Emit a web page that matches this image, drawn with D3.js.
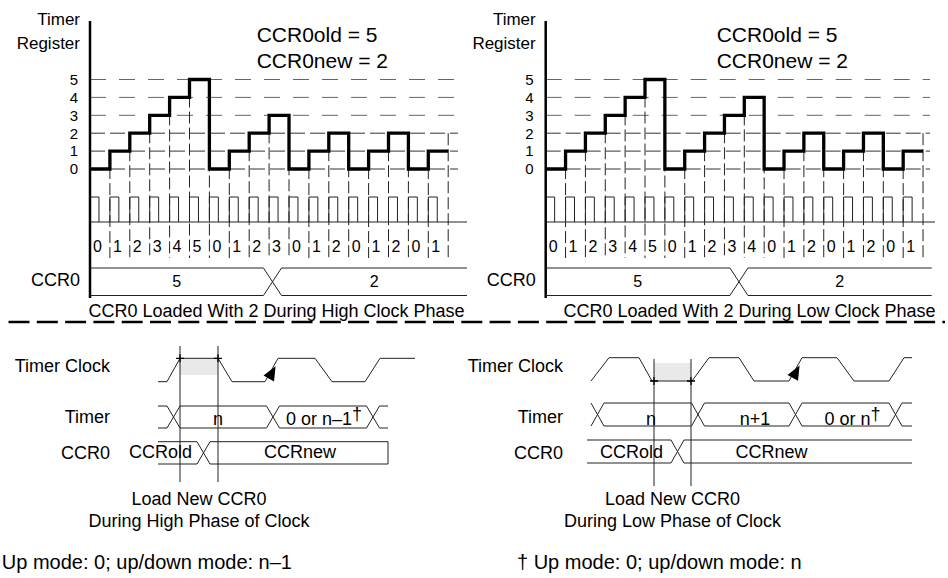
<!DOCTYPE html>
<html>
<head>
<meta charset="utf-8">
<script src="https://cdn.jsdelivr.net/npm/d3@7"></script>
<style>
  body { margin: 0; background: #fff; }
  text { font-family: "Liberation Sans", Arial, Helvetica, sans-serif; fill: #000; }
</style>
</head>
<body>
<div id="chart"></div>
<script>
// ******************************** DATA ***************************************
// Timer register value for every timer clock (upper charts)
var levels = [0, 1, 2, 3, 4, 5];
var countsHigh = [0, 1, 2, 3, 4, 5, 0, 1, 2, 3, 0, 1, 2, 0, 1, 2, 0, 1];
var countsLow  = [0, 1, 2, 3, 4, 5, 0, 1, 2, 3, 4, 0, 1, 2, 0, 1, 2, 0, 1];
var ccr0Values = [5, 2];                 // old, new
var loadSteps = [9.17, 9.73];            // clock count where CCR0 gets the new value
var panelTitles = ["CCR0 Loaded With 2 During High Clock Phase",
                   "CCR0 Loaded With 2 During Low Clock Phase"];

// Detail timing (lower charts), time measured in timer clock periods
var clockHigh = [[-0.09, 0], [0, 0], [0.13, 1], [0.51, 1], [0.65, 0], [0.98, 0], [1.11, 1],
                 [1.48, 1], [1.65, 0], [1.98, 0], [2.13, 1], [2.48, 1]];
var clockLow = [[0, 0], [0.18, 1], [0.48, 1], [0.61, 0], [1.01, 0], [1.18, 1], [1.48, 1],
                [1.63, 0], [1.98, 0], [2.11, 1], [2.46, 1], [2.63, 0], [2.98, 0], [3.13, 1], [3.21, 1]];
var timerEdgesHigh = [0.065, 1.06, 2.06];
var timerEdgesLow = [0.065, 1.07, 2.045, 3.045];
var timerLabelsHigh = [["n", 0.51], ["0 or n\u20131", 1.57, true]];
var timerLabelsLow = [["n", 0.6], ["n+1", 1.64], ["0 or n", 2.615, true]];
var ccrEdgeHigh = 0.365, ccrEdgeLow = 0.865;
var ccrLabelsHigh = [["CCRold", -0.065], ["CCRnew", 1.33]];
var ccrLabelsLow = [["CCRold", 0.405], ["CCRnew", 1.805]];
var loadWindowHigh = [0.13, 0.51], loadWindowLow = [0.63, 1.0];
var arrowEdgeHigh = [0.98, 1.11], arrowEdgeLow = [1.98, 2.11];
var phaseNames = ["High", "Low"];
var footnotes = ["\u2020 Up mode: 0; up/down mode: n\u20131", "\u2020 Up mode: 0; up/down mode: n"];

// ******************************** CANVAS *************************************
var svg = d3.select("#chart").append("svg")
    .attr("width", 948)
    .attr("height", 578);

function addText(g, x, y, str, size, anchor) {
  return g.append("text")
    .attr("x", x).attr("y", y)
    .attr("font-size", size)
    .attr("text-anchor", anchor || "start")
    .text(str);
}

// path for a bus signal: two rails with X shaped crossings
function busPath(start, edges, end, hw, yT, yB, closed) {
  var p = d3.path(), left = start;
  edges.forEach(function(c) {
    p.moveTo(left, yT); p.lineTo(c - hw, yT); p.lineTo(c + hw, yB);
    p.moveTo(left, yB); p.lineTo(c - hw, yB); p.lineTo(c + hw, yT);
    left = c + hw;
  });
  p.moveTo(left, yT); p.lineTo(end, yT);
  p.moveTo(left, yB); p.lineTo(end, yB);
  if (closed) { p.moveTo(end, yT); p.lineTo(end, yB); }
  return p.toString();
}

// ***************************** UPPER CHARTS **********************************
var yTop = d3.scaleLinear().domain([0, 5]).range([169, 79.5]);
var clkHi = 197, clkLo = 222;

var topPanels = [
  {counts: countsHigh, load: loadSteps[0], title: panelTitles[0], x0: 90, step: 19.9,
   gridEnd: 458, baseEnd: 467, busEnd: 467, labelRight: 80, noteX: 256.7, titleX: 276.5},
  {counts: countsLow, load: loadSteps[1], title: panelTitles[1], x0: 545.7, step: 19.86,
   gridEnd: 930, baseEnd: 935, busEnd: 931.7, labelRight: 535.7, noteX: 716.7, titleX: 749.5}
];

topPanels.forEach(function(p) {
  var n = p.counts.length;
  var x = d3.scaleLinear().domain([0, n]).range([p.x0, p.x0 + n * p.step]);
  var g = svg.append("g");

  // horizontal dashed grid
  g.selectAll(".hgrid").data(levels).enter().append("line")
    .attr("x1", p.x0).attr("x2", p.gridEnd)
    .attr("y1", function(d) { return yTop(d); })
    .attr("y2", function(d) { return yTop(d); })
    .attr("stroke", function(d) { return d > 2 ? "#666" : "#333"; })
    .attr("stroke-width", 1)
    .attr("stroke-dasharray", function(d) { return d > 2 ? "16,13" : "15,5"; });

  // vertical dashed lines at every clock
  g.selectAll(".vgrid").data(d3.range(1, n + 1)).enter().append("line")
    .attr("x1", function(i) { return x(i); })
    .attr("x2", function(i) { return x(i); })
    .attr("y1", function(i) {
      return i < n ? yTop(Math.max(p.counts[i - 1], p.counts[i])) : yTop(2);
    })
    .attr("y2", 258)
    .attr("stroke", "#222")
    .attr("stroke-dasharray", "12,4");

  // timer clock
  g.append("line").attr("x1", p.x0).attr("x2", p.baseEnd)
    .attr("y1", clkLo).attr("y2", clkLo).attr("stroke", "#222");
  g.append("path")
    .attr("d", p.counts.map(function(c, i) {
      return "M" + x(i) + "," + clkLo + "V" + clkHi + "H" + x(i + 0.45) + "V" + clkLo;
    }).join(""))
    .attr("fill", "none").attr("stroke", "#222");

  // count labels under the clock
  g.selectAll(".cnt").data(p.counts).enter().append("text")
    .attr("x", function(d, i) { return x(i) + 3; })
    .attr("y", 251.7)
    .attr("font-size", 16)
    .text(function(d) { return d; });

  // staircase of the timer register
  var stair = d3.line().curve(d3.curveStepAfter)
    .x(function(d, i) { return x(i); })
    .y(function(d) { return yTop(d); });
  g.append("path")
    .datum(p.counts.concat([p.counts[n - 1]]))
    .attr("d", stair)
    .attr("fill", "none").attr("stroke", "#000").attr("stroke-width", 3.3);

  // axis
  g.append("line").attr("x1", p.x0).attr("x2", p.x0).attr("y1", 21).attr("y2", 298)
    .attr("stroke", "#000").attr("stroke-width", 2.5);
  var yAxis = g.append("g")
    .attr("transform", "translate(" + p.x0 + ",0)")
    .call(d3.axisLeft(yTop).tickValues(levels).tickFormat(d3.format("d"))
      .tickSize(0).tickPadding(12));
  yAxis.select(".domain").remove();
  yAxis.attr("font-family", null).attr("font-size", null);
  yAxis.selectAll("text").attr("font-size", 15).attr("fill", "#000");

  addText(g, p.labelRight, 25, "Timer", 17, "end");
  addText(g, p.labelRight, 48.5, "Register", 17, "end");
  addText(g, p.noteX, 41.7, "CCR0old = " + ccr0Values[0], 21);
  addText(g, p.noteX, 68.3, "CCR0new = " + ccr0Values[1], 21);

  // CCR0 bus
  var hw = 9, bT = 268, bB = 295.5, cx = x(p.load);
  g.append("path")
    .attr("d", busPath(p.x0, [cx], p.busEnd, hw, bT, bB, false))
    .attr("fill", "none").attr("stroke", "#222");
  addText(g, (p.x0 + cx - hw) / 2, 287, ccr0Values[0], 16, "middle");
  addText(g, (cx + hw + p.busEnd) / 2, 287, ccr0Values[1], 16, "middle");
  addText(g, p.labelRight, 286, "CCR0", 18, "end");

  addText(g, p.titleX, 317, p.title, 18, "middle");
});

// separator
svg.append("line").attr("x1", 8.5).attr("x2", 945).attr("y1", 322).attr("y2", 322)
  .attr("stroke", "#000").attr("stroke-width", 2.5).attr("stroke-dasharray", "21,7.3");

// ***************************** LOWER CHARTS **********************************
var bottomPanels = [
  {clock: clockHigh, tEdges: timerEdgesHigh, tLabels: timerLabelsHigh, tStart: -0.09,
   cEdge: ccrEdgeHigh, cLabels: ccrLabelsHigh, cStart: -0.09, end: 2.21, closed: true,
   win: loadWindowHigh, arrow: arrowEdgeHigh, phase: phaseNames[0], note: footnotes[0],
   x0: 167, hi: 358.3, lo: 381.7, shade: [358.3, 375], markY: 358.3, mark: [346, 482],
   tRail: [406, 428], cRail: [441.7, 464], labelRight: 110, noteX: 292, noteAnchor: "end"},
  {clock: clockLow, tEdges: timerEdgesLow, tLabels: timerLabelsLow, tStart: 0,
   cEdge: ccrEdgeLow, cLabels: ccrLabelsLow, cStart: -0.04, end: 3.21, closed: false,
   win: loadWindowLow, arrow: arrowEdgeLow, phase: phaseNames[1], note: footnotes[1],
   x0: 591, hi: 357.7, lo: 381, shade: [363, 381], markY: 381, mark: [359, 486],
   tRail: [403, 426], cRail: [440, 463], labelRight: 563, noteX: 517, noteAnchor: "start"}
];

bottomPanels.forEach(function(p) {
  var x = d3.scaleLinear().domain([0, 1]).range([p.x0, p.x0 + 100]);
  var g = svg.append("g");
  var hw = 6.5;

  // shaded load window
  g.append("rect")
    .attr("x", x(p.win[0])).attr("width", x(p.win[1]) - x(p.win[0]))
    .attr("y", p.shade[0]).attr("height", p.shade[1] - p.shade[0])
    .attr("fill", "#e9e9e9");

  // clock
  var clk = d3.line()
    .x(function(d) { return x(d[0]); })
    .y(function(d) { return d[1] ? p.hi : p.lo; });
  g.append("path").datum(p.clock).attr("d", clk)
    .attr("fill", "none").attr("stroke", "#222");

  // arrow on the rising edge
  var ax0 = x(p.arrow[0]), ax1 = x(p.arrow[1]);
  var len = Math.hypot(ax1 - ax0, p.hi - p.lo);
  var dx = (ax1 - ax0) / len, dy = (p.hi - p.lo) / len;
  var tipX = ax0 + dx * len * 0.66 + 2, tipY = p.lo + dy * len * 0.66;
  var bx = tipX - dx * 14, by = tipY - dy * 14;
  g.append("path")
    .attr("d", "M" + tipX + "," + tipY + "L" + (bx - dy * 6) + "," + (by + dx * 6) +
      "L" + (bx + dy * 6) + "," + (by - dx * 6) + "Z")
    .attr("fill", "#000");

  // marker lines at the load window
  g.selectAll(".mark").data(p.win).enter().append("line")
    .attr("x1", function(d) { return x(d); }).attr("x2", function(d) { return x(d); })
    .attr("y1", p.mark[0]).attr("y2", p.mark[1])
    .attr("stroke", "#222");
  g.selectAll(".cross").data(p.win).enter().append("path")
    .attr("d", function(d) {
      var cx = x(d);
      return "M" + (cx - 4) + "," + p.markY + "H" + (cx + 4) +
        "M" + cx + "," + (p.markY - 4) + "V" + (p.markY + 4);
    })
    .attr("stroke", "#000").attr("stroke-width", 1.3);

  // timer bus
  g.append("path")
    .attr("d", busPath(x(p.tStart), p.tEdges.map(x), x(p.end), hw, p.tRail[0], p.tRail[1], false))
    .attr("fill", "none").attr("stroke", "#222");
  p.tLabels.forEach(function(l) {
    var t = addText(g, x(l[1]), 425, l[0], 18, "middle");
    if (l[2]) t.append("tspan").attr("dy", -5).text("\u2020");
  });

  // CCR0 bus
  g.append("path")
    .attr("d", busPath(x(p.cStart), [x(p.cEdge)], x(p.end), hw, p.cRail[0], p.cRail[1], p.closed))
    .attr("fill", "none").attr("stroke", "#222");
  p.cLabels.forEach(function(l) {
    addText(g, x(l[1]), 458, l[0], 18, "middle");
  });

  addText(g, p.labelRight, 372, "Timer Clock", 18, "end");
  addText(g, p.labelRight, 423.3, "Timer", 18, "end");
  addText(g, p.labelRight, 458.5, "CCR0", 18, "end");

  var mid = (x(p.win[0]) + x(p.win[1])) / 2;
  addText(g, mid, 505, "Load New CCR0", 18, "middle");
  addText(g, mid, 527, "During " + p.phase + " Phase of Clock", 18, "middle");
  addText(g, p.noteX, 569.3, p.note, 20, p.noteAnchor);
});
</script>
</body>
</html>
